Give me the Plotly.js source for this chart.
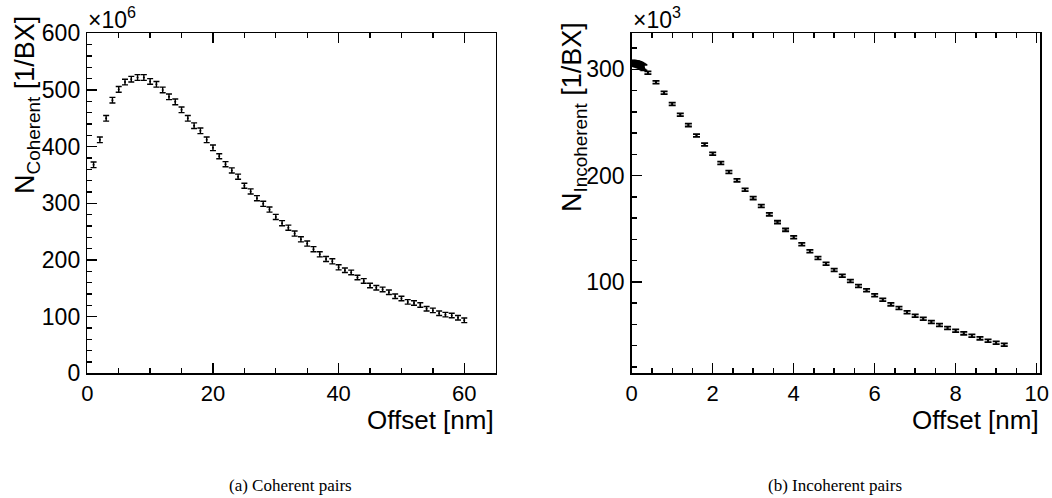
<!DOCTYPE html>
<html>
<head>
<meta charset="utf-8">
<script src="https://cdn.plot.ly/plotly-3.0.1.min.js"></script>
<style>html,body{margin:0;padding:0;background:#fff;}#chart{width:1052px;height:498px;}</style>
</head>
<body>
<div id="chart"></div>
<script>
// (a) Coherent pairs
const cohOffset = [1,2,3,4,5,6,7,8,9,10,11,12,13,14,15,16,17,18,19,20,21,22,23,24,25,26,27,28,29,30,31,32,33,34,35,36,37,38,39,40,41,42,43,44,45,46,47,48,49,50,51,52,53,54,55,56,57,58,59,60];
const cohValue = [368,412,450,482,501,514,519,522,522,515,510,500,488,479,465,450,437,428,412,398,383,369,358,347,331,321,309,299,289,276,265,257,246.5,236.5,229,219,210,201.7,197.6,187,181.8,178,169,163,155,151,148,143,136,132,126,124,120.5,114,111,106,103.5,102,98,93.5];
const cohError = [5,5,5,5,5,5,5,5,5,5,5,5,5,5,5,5,5,5,5,5,4.5,4.5,4.5,4.5,4.5,4.5,4.5,4.5,4.5,4.5,4.5,4.5,4.5,4.5,4.5,4.5,4.5,4.5,4.5,4.5,4,4,4,4,4,4,4,4,4,4,4,4,4,4,4,4,4,4,4,4];

// (b) Incoherent pairs
const incOffset = [0,0.025,0.05,0.075,0.1,0.125,0.15,0.175,0.2,0.225,0.25,0.275,0.3,0.4,0.6,0.8,1.0,1.2,1.4,1.6,1.8,2.0,2.2,2.4,2.6,2.8,3.0,3.2,3.4,3.6,3.8,4.0,4.2,4.4,4.6,4.8,5.0,5.2,5.4,5.6,5.8,6.0,6.2,6.4,6.6,6.8,7.0,7.2,7.4,7.6,7.8,8.0,8.2,8.4,8.6,8.8,9.0,9.2];
const incValue = [305.8,305.8,305.7,305.6,305.4,305.2,304.9,304.5,304.1,303.6,303.0,302.4,301.7,296.8,288,278,267.4,257.3,247.6,237.9,229.4,220.6,211.9,203.4,195.6,186.7,178.9,171.4,163.6,156.3,149,142,135.4,128.8,122.5,117.1,111.2,105.8,100.8,96.1,92.1,87.4,83.3,78.9,75.4,71.4,68.2,65.4,62.3,59.4,56.6,54.1,51.6,49.4,46.9,44.7,42.8,40.9];
const incError = [2.5,2.5,2.5,2.5,2.5,2.5,2.5,2.5,2.5,2.5,2.5,2.5,2.5,1.3,1.3,1.3,1.3,1.3,1.3,1.3,1.3,1.3,1.3,1.3,1.3,1.3,1.3,1.3,1.3,1.3,1.3,1.3,1.3,1.3,1.3,1.3,1.3,1.3,1.3,1.3,1.3,1.3,1.3,1.3,1.3,1.3,1.3,1.3,1.3,1.3,1.3,1.3,1.3,1.3,1.3,1.3,1.3,1.3];

const W = 1052, H = 498;
const px = v => v / W;
const py = v => (H - v) / H;
const FONT = '"Liberation Sans", Arial, Helvetica, sans-serif';
const SERIF = '"Liberation Serif", "Times New Roman", serif';

function errTrace(x, y, e, xa, ya, capw, thick) {
  return {
    type: 'scatter', mode: 'markers', x: x, y: y, xaxis: xa, yaxis: ya,
    marker: {size: 2, color: 'black'},
    error_y: {type: 'data', array: e, visible: true, color: 'black', thickness: thick, width: capw},
    showlegend: false, hoverinfo: 'x+y'
  };
}

const data = [
  errTrace(cohOffset, cohValue, cohError, 'x', 'y', 3, 1.4),
  errTrace(incOffset, incValue, incError, 'x2', 'y2', 3.5, 1.8)
];

function xAxis(dom, range, dtick, minor, anchor) {
  return {
    domain: dom, range: range, anchor: anchor, tick0: 0, dtick: dtick,
    showgrid: false, zeroline: false, showline: true, linecolor: 'black', linewidth: 1.5,
    mirror: 'ticks', ticks: 'inside', ticklen: 10, tickwidth: 1.4, tickcolor: 'black',
    minor: {dtick: minor, tick0: 0, ticks: 'inside', ticklen: 5, tickwidth: 1.4, tickcolor: 'black', showgrid: false},
    tickfont: {family: FONT, size: 22, color: 'black'}, ticklabelstandoff: 0
  };
}
function yAxis(dom, range, dtick, minor, anchor) {
  return {
    domain: dom, range: range, anchor: anchor, tick0: 0, dtick: dtick,
    showgrid: false, zeroline: false, showline: true, linecolor: 'black', linewidth: 1.5,
    mirror: true, ticks: 'inside', ticklen: 10, tickwidth: 1.4, tickcolor: 'black',
    minor: {dtick: minor, tick0: 0, ticks: 'inside', ticklen: 5, tickwidth: 1.4, tickcolor: 'black', showgrid: false},
    tickfont: {family: FONT, size: 23, color: 'black'}, ticklabelstandoff: 1
  };
}

const yDom = [py(373.3), py(33.3)];
const layout = {
  width: W, height: H,
  margin: {l: 0, r: 0, t: 0, b: 0},
  paper_bgcolor: 'white', plot_bgcolor: 'white',
  showlegend: false,
  xaxis: xAxis([px(87.3), px(495.7)], [0, 65], 20, 5, 'y'),
  yaxis: yAxis(yDom, [0, 600], 100, 20, 'x'),
  xaxis2: xAxis([px(631.7), px(1040.3)], [0, 10.09], 2, 0.5, 'y2'),
  yaxis2: yAxis(yDom, [14, 334], 100, 20, 'x2'),
  annotations: [
    {xref: 'paper', yref: 'paper', x: px(496), y: py(420), xanchor: 'right', yanchor: 'middle', showarrow: false,
     text: 'Offset [nm]', font: {family: FONT, size: 26, color: 'black'}},
    {xref: 'paper', yref: 'paper', x: px(1041), y: py(420), xanchor: 'right', yanchor: 'middle', showarrow: false,
     text: 'Offset [nm]', font: {family: FONT, size: 26, color: 'black'}},
    {xref: 'paper', yref: 'paper', x: px(27), y: py(14), xanchor: 'center', yanchor: 'top', showarrow: false, textangle: -90,
     text: 'N<sub>Coherent</sub> [1/BX]', font: {family: FONT, size: 27, color: 'black'}},
    {xref: 'paper', yref: 'paper', x: px(574), y: py(20), xanchor: 'center', yanchor: 'top', showarrow: false, textangle: -90,
     text: 'N<sub>Incoherent</sub> [1/BX]', font: {family: FONT, size: 27, color: 'black'}},
    {xref: 'paper', yref: 'paper', x: px(86), y: py(18), xanchor: 'left', yanchor: 'middle', showarrow: false,
     text: '×10<sup>6</sup>', font: {family: FONT, size: 23, color: 'black'}},
    {xref: 'paper', yref: 'paper', x: px(631), y: py(18), xanchor: 'left', yanchor: 'middle', showarrow: false,
     text: '×10<sup>3</sup>', font: {family: FONT, size: 23, color: 'black'}},
    {xref: 'paper', yref: 'paper', x: px(290), y: py(485), xanchor: 'center', yanchor: 'middle', showarrow: false,
     text: '(a) Coherent pairs', font: {family: SERIF, size: 17, color: 'black'}},
    {xref: 'paper', yref: 'paper', x: px(835), y: py(485), xanchor: 'center', yanchor: 'middle', showarrow: false,
     text: '(b) Incoherent pairs', font: {family: SERIF, size: 17, color: 'black'}}
  ]
};

Plotly.newPlot('chart', data, layout, {staticPlot: true, displayModeBar: false});
</script>
</body>
</html>
